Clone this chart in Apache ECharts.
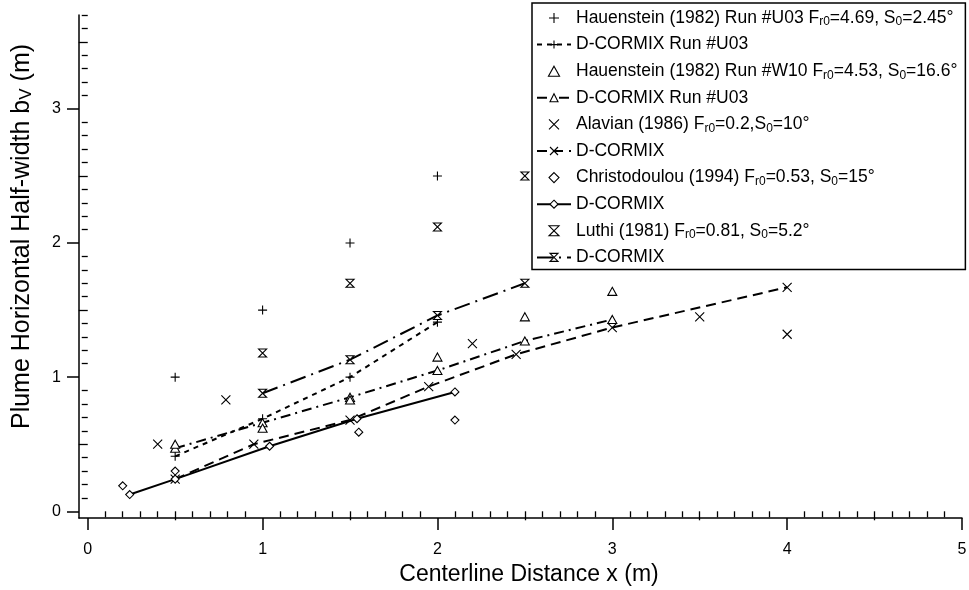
<!DOCTYPE html>
<html>
<head>
<meta charset="utf-8">
<script src="https://cdn.jsdelivr.net/npm/echarts@6/dist/echarts.min.js"></script>
<style>
  html, body { margin: 0; padding: 0; background: #fff; }
  #main { width: 969px; height: 590px; }
</style>
</head>
<body>
<div id="main"></div>
<script>
// tick labels
const xTickLabels = [0, 1, 2, 3, 4, 5];
const yTickLabels = [0, 1, 2, 3];
const xHalfTicks = [0.5, 1.5, 2.5, 3.5, 4.5];
const yHalfTicks = [0.5, 1.5, 2.5, 3.5];

// Hauenstein (1982) Run #U03 + its D-CORMIX run
const hauU03X = [0.5, 1.0, 1.5, 2.0];
const hauU03Y = [1.0, 1.5, 2.0, 2.5];
const dcU03X = [0.5, 1.0, 1.5, 2.0];
const dcU03Y = [0.41, 0.69, 1.0, 1.41];

// Hauenstein (1982) Run #W10 + D-CORMIX
const hauW10X = [0.5, 1.0, 1.5, 2.0, 2.5, 3.0];
const hauW10Y = [0.5, 0.62, 0.83, 1.15, 1.45, 1.64];
const dcW10X = [0.5, 1.0, 1.5, 2.0, 2.5, 3.0];
const dcW10Y = [0.47, 0.66, 0.85, 1.05, 1.27, 1.43];

// Alavian (1986) + D-CORMIX
const alaX = [0.4, 0.79, 2.2, 3.5, 4.0];
const alaY = [0.5, 0.83, 1.25, 1.45, 1.32];
const dcAlaX = [0.5, 0.95, 1.5, 1.95, 2.45, 3.0, 4.0];
const dcAlaY = [0.24, 0.5, 0.68, 0.93, 1.17, 1.37, 1.67];

// Christodoulou (1994) + D-CORMIX
const chrX = [0.2, 0.5, 1.55, 2.1];
const chrY = [0.19, 0.3, 0.59, 0.68];
const dcChrX = [0.24, 0.5, 1.04, 1.54, 2.1];
const dcChrY = [0.125, 0.24, 0.485, 0.69, 0.89];

// Luthi (1981) + D-CORMIX
const luthiX = [1.0, 1.5, 2.0, 2.5];
const luthiY = [1.18, 1.70, 2.12, 2.5];
const dcLuthiX = [1.0, 1.5, 2.0, 2.5];
const dcLuthiY = [0.88, 1.13, 1.46, 1.70];

const legendLabels = {
  hauU03: 'Hauenstein (1982) Run #U03 F{sub|r0}=4.69, S{sub|0}=2.45°',
  dcU03: 'D-CORMIX Run #U03',
  hauW10: 'Hauenstein (1982) Run #W10 F{sub|r0}=4.53, S{sub|0}=16.6°',
  dcW10: 'D-CORMIX Run #U03',
  ala: 'Alavian (1986) F{sub|r0}=0.2,S{sub|0}=10°',
  dcAla: 'D-CORMIX',
  chr: 'Christodoulou (1994) F{sub|r0}=0.53, S{sub|0}=15°',
  dcChr: 'D-CORMIX',
  luthi: 'Luthi (1981) F{sub|r0}=0.81, S{sub|0}=5.2°',
  dcLuthi: 'D-CORMIX'
};

const FONT = 'Liberation Sans, Arial, sans-serif';
const PLUS = 'path://M5 0L5 10M0 5L10 5';
const CROSS = 'path://M0 0L10 10M10 0L0 10';
const TRI = 'path://M5 0L10 9L0 9Z';
const DIAMOND = 'path://M5 0L10 5L5 10L0 5Z';
const HOURGLASS = 'path://M0 0L10 0L0 10L10 10Z';

// minor tick positions every 0.1, skipping the halves and integers
function minorTicks(max) {
  let out = [];
  for (let i = 1; i <= Math.round(max * 10); i++) {
    if (i % 5 !== 0) out.push(i / 10);
  }
  return out;
}

function pairs(xs, ys) {
  return xs.map((x, i) => [x, ys[i]]);
}

function scatter(name, xs, ys, symbol, size) {
  return {
    name: name, type: 'scatter', data: pairs(xs, ys),
    symbol: symbol, symbolSize: size, symbolKeepAspect: true,
    itemStyle: { color: '#fff', borderColor: '#000', borderWidth: 1.1, opacity: 1 },
    z: 3
  };
}

function model(name, xs, ys, symbol, size, dash) {
  return {
    name: name, type: 'line', data: pairs(xs, ys),
    symbol: symbol, symbolSize: size, showSymbol: true, symbolKeepAspect: true,
    lineStyle: { color: '#000', width: 2, type: dash },
    itemStyle: { color: '#fff', borderColor: '#000', borderWidth: 1.1 },
    z: 2
  };
}

function axisBase(min, max) {
  return {
    type: 'value', min: min, max: max,
    splitLine: { show: false },
    axisLine: { show: false },
    axisLabel: { show: false }
  };
}

let chart = echarts.init(document.getElementById('main'), null, { renderer: 'canvas' });

let option = {
  animation: false,
  backgroundColor: '#fff',
  grid: { left: 79, right: 7, top: 15, bottom: 72, outerBoundsMode: 'none', containLabel: false },
  xAxis: [
    Object.assign(axisBase(-0.05, 5), {
      position: 'bottom',
      axisLine: { show: true, onZero: false, lineStyle: { color: '#000', width: 1.5 } },
      axisTick: { show: true, customValues: xTickLabels, length: 12, lineStyle: { color: '#000', width: 1.5 } },
      axisLabel: { show: true, customValues: xTickLabels, color: '#000', fontSize: 16, fontFamily: FONT, margin: 24 },
      name: 'Centerline Distance x (m)',
      nameLocation: 'middle',
      nameGap: 43,
      nameTextStyle: { color: '#000', fontSize: 23, fontFamily: FONT, padding: [0, 0, 0, 17] }
    }),
    Object.assign(axisBase(-0.05, 5), {
      position: 'bottom',
      axisTick: { show: true, customValues: xHalfTicks, length: 9, lineStyle: { color: '#000', width: 1.3 } }
    }),
    Object.assign(axisBase(-0.05, 5), {
      position: 'bottom',
      axisTick: { show: true, customValues: minorTicks(4.9), length: 6, lineStyle: { color: '#000', width: 1.3 } }
    })
  ],
  yAxis: [
    Object.assign(axisBase(-0.05, 3.7), {
      position: 'left',
      axisLine: { show: true, onZero: false, lineStyle: { color: '#000', width: 1.5 } },
      axisTick: { show: true, customValues: yTickLabels, length: 12, lineStyle: { color: '#000', width: 1.5 } },
      axisLabel: { show: true, customValues: yTickLabels, color: '#000', fontSize: 16, fontFamily: FONT, margin: 18 },
      name: 'Plume Horizontal Half-width b{sub|V} (m)',
      nameLocation: 'middle',
      nameGap: 44,
      nameTextStyle: {
        color: '#000', fontSize: 25, fontFamily: FONT, padding: [0, 0, 0, 60],
        rich: { sub: { fontSize: 17, fontFamily: FONT, color: '#000', verticalAlign: 'bottom', lineHeight: 17 } }
      }
    }),
    Object.assign(axisBase(-0.05, 3.7), {
      position: 'left',
      axisTick: { show: true, customValues: yHalfTicks, length: 9, lineStyle: { color: '#000', width: 1.3 } }
    }),
    Object.assign(axisBase(-0.05, 3.7), {
      position: 'left',
      axisTick: { show: true, customValues: minorTicks(3.7), length: 6, lineStyle: { color: '#000', width: 1.3 } }
    })
  ],
  legend: {
    orient: 'vertical',
    left: 532, top: 3,
    itemWidth: 34, itemHeight: 10, itemGap: 6.6,
    padding: [5, 8, 2, 4],
    borderColor: '#000', borderWidth: 1.5, backgroundColor: '#fff',
    selectedMode: false,
    itemStyle: { borderWidth: 1.1 },
    data: Object.keys(legendLabels),
    formatter: name => legendLabels[name],
    textStyle: {
      fontFamily: FONT, fontSize: 17.5, color: '#000', lineHeight: 20,
      rich: {
        sub: { fontFamily: FONT, fontSize: 12, color: '#000', lineHeight: 12, verticalAlign: 'bottom' }
      }
    }
  },
  series: [
    scatter('hauU03', hauU03X, hauU03Y, PLUS, 9),
    model('dcU03', dcU03X, dcU03Y, PLUS, 9, [5, 5]),
    scatter('hauW10', hauW10X, hauW10Y, TRI, 9),
    model('dcW10', dcW10X, dcW10Y, TRI, 9, [10, 5, 2, 5]),
    scatter('ala', alaX, alaY, CROSS, 9),
    model('dcAla', dcAlaX, dcAlaY, CROSS, 9, [10, 6]),
    scatter('chr', chrX, chrY, DIAMOND, 8),
    model('dcChr', dcChrX, dcChrY, DIAMOND, 8, 'solid'),
    scatter('luthi', luthiX, luthiY, HOURGLASS, 8),
    model('dcLuthi', dcLuthiX, dcLuthiY, HOURGLASS, 8, [16, 6, 2, 6])
  ]
};

chart.setOption(option);
</script>
</body>
</html>
